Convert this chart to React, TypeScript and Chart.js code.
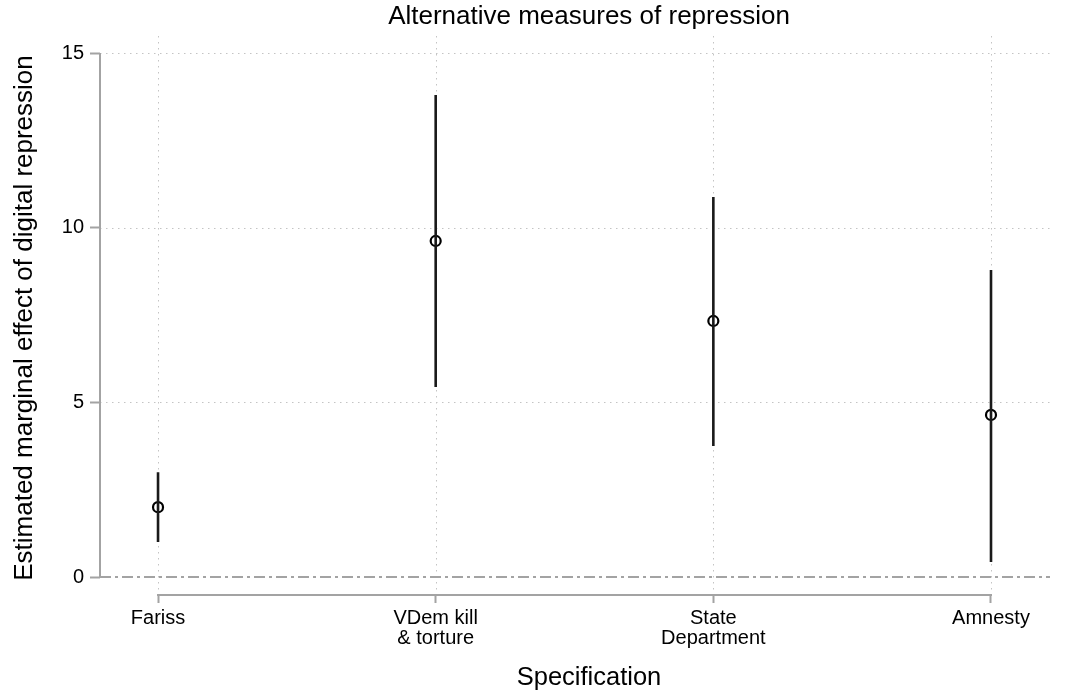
import React, { useEffect, useRef } from "react";
import { Chart, registerables } from "chart.js";

Chart.register(...registerables);

// Specifications on the x axis (multi-line labels)
const specifications: string[][] = [
  ["Fariss"],
  ["VDem kill", "& torture"],
  ["State", "Department"],
  ["Amnesty"],
];
// Point estimates and 95% confidence bounds
const estimates = [2.0, 9.62, 7.33, 4.64];
const lowerBounds = [1.0, 5.44, 3.75, 0.43];
const upperBounds = [3.0, 13.8, 10.88, 8.79];
const yTicks = [0, 5, 10, 15];

const chartTitle = "Alternative measures of repression";
const xTitle = "Specification";
const yTitle = "Estimated marginal effect of digital repression";

const FONT = "'Liberation Sans', Arial, Helvetica, sans-serif";
const AXIS_GRAY = "#a3a3a3";
const GRID_GRAY = "#c4c4c4";

const decorations = {
  id: "decorations",
  beforeDatasetsDraw(chart: any) {
    const { ctx, chartArea } = chart;
    const xs = chart.scales.x;
    const ys = chart.scales.y;
    ctx.save();

    // dotted grid lines
    ctx.strokeStyle = GRID_GRAY;
    ctx.lineWidth = 1;
    ctx.setLineDash([1.5, 4.5]);
    yTicks.forEach((v) => {
      if (v === 0) return;
      const y = Math.round(ys.getPixelForValue(v)) + 0.5;
      ctx.beginPath();
      ctx.moveTo(chartArea.left, y);
      ctx.lineTo(chartArea.right, y);
      ctx.stroke();
    });
    specifications.forEach((_, i) => {
      const x = Math.round(xs.getPixelForValue(i)) + 0.5;
      ctx.beginPath();
      ctx.moveTo(x, chartArea.top);
      ctx.lineTo(x, chartArea.bottom);
      ctx.stroke();
    });

    // zero reference line (dash-dot)
    ctx.strokeStyle = AXIS_GRAY;
    ctx.lineWidth = 2;
    ctx.setLineDash([11, 4, 3, 4]);
    const y0 = Math.round(ys.getPixelForValue(0));
    ctx.beginPath();
    ctx.moveTo(chartArea.left, y0);
    ctx.lineTo(chartArea.right, y0);
    ctx.stroke();

    // axis lines spanning the tick range only
    ctx.setLineDash([]);
    ctx.beginPath();
    ctx.moveTo(chartArea.left, ys.getPixelForValue(yTicks[0]));
    ctx.lineTo(chartArea.left, ys.getPixelForValue(yTicks[yTicks.length - 1]));
    ctx.stroke();
    ctx.beginPath();
    ctx.moveTo(xs.getPixelForValue(0) - 1, chartArea.bottom);
    ctx.lineTo(xs.getPixelForValue(specifications.length - 1) + 1, chartArea.bottom);
    ctx.stroke();
    ctx.restore();
  },
  afterDraw(chart: any) {
    const { ctx } = chart;
    ctx.save();
    ctx.fillStyle = "#000";
    ctx.textAlign = "center";
    ctx.textBaseline = "alphabetic";
    ctx.font = `26px ${FONT}`;
    ctx.fillText(chartTitle, 589, 24);
    ctx.font = `25.5px ${FONT}`;
    ctx.fillText(xTitle, 589, 685);
    ctx.font = `26px ${FONT}`;
    ctx.translate(32, 318);
    ctx.rotate(-Math.PI / 2);
    ctx.fillText(yTitle, 0, 0);
    ctx.restore();
  },
};

export default function App() {
  const canvasRef = useRef<HTMLCanvasElement | null>(null);

  useEffect(() => {
    if (!canvasRef.current) return;
    const ciData: any[] = [];
    specifications.forEach((_, i) => {
      ciData.push({ x: i, y: lowerBounds[i] });
      ciData.push({ x: i, y: upperBounds[i] });
      ciData.push({ x: i, y: null });
    });
    const pointData = estimates.map((v, i) => ({ x: i, y: v }));

    const chart = new Chart(canvasRef.current, {
      type: "scatter",
      data: {
        datasets: [
          {
            type: "line",
            label: "95% CI",
            data: ciData,
            borderColor: "#1a1a1a",
            borderWidth: 2.6,
            pointRadius: 0,
            showLine: true,
            spanGaps: false,
            fill: false,
          } as any,
          {
            label: "Estimate",
            data: pointData,
            pointStyle: "circle",
            pointRadius: 5,
            pointBorderWidth: 2.2,
            pointBackgroundColor: "rgba(0,0,0,0)",
            pointBorderColor: "#000",
            borderColor: "#000",
            backgroundColor: "rgba(0,0,0,0)",
          },
        ],
      },
      options: {
        animation: false,
        responsive: false,
        maintainAspectRatio: false,
        layout: { padding: { top: 36, right: 18, left: 0, bottom: 0 } },
        plugins: {
          legend: { display: false },
          title: { display: false },
          tooltip: { enabled: false },
        },
        scales: {
          x: {
            type: "linear",
            min: -0.209,
            max: 3.2125,
            afterBuildTicks: (scale: any) => {
              scale.ticks = specifications.map((_, i) => ({ value: i }));
            },
            afterFit: (scale: any) => {
              scale.height = 97;
            },
            border: { display: false },
            grid: {
              color: "rgba(0,0,0,0)",
              drawTicks: true,
              tickLength: 8,
              tickWidth: 2,
              tickColor: AXIS_GRAY,
            },
            ticks: {
              padding: 5,
              color: "#000",
              autoSkip: false,
              maxRotation: 0,
              font: { family: FONT, size: 20, lineHeight: 1.0 },
              callback: (value: any) => specifications[Number(value)] ?? "",
            },
          },
          y: {
            type: "linear",
            min: -0.515,
            max: 15.487,
            afterBuildTicks: (scale: any) => {
              scale.ticks = yTicks.map((v) => ({ value: v }));
            },
            afterFit: (scale: any) => {
              scale.width = 100;
            },
            border: { display: false },
            grid: {
              color: "rgba(0,0,0,0)",
              drawTicks: true,
              tickLength: 10,
              tickWidth: 2,
              tickColor: AXIS_GRAY,
            },
            ticks: {
              padding: 6,
              color: "#000",
              font: { family: FONT, size: 20 },
              callback: (value: any) => String(value),
            },
          },
        },
      },
      plugins: [decorations],
    });
    return () => chart.destroy();
  }, []);

  return (
    <div style={{ position: "fixed", left: 0, top: 0, width: 1068, height: 692, background: "#fff" }}>
      <canvas ref={canvasRef} width={1068} height={692} />
    </div>
  );
}
